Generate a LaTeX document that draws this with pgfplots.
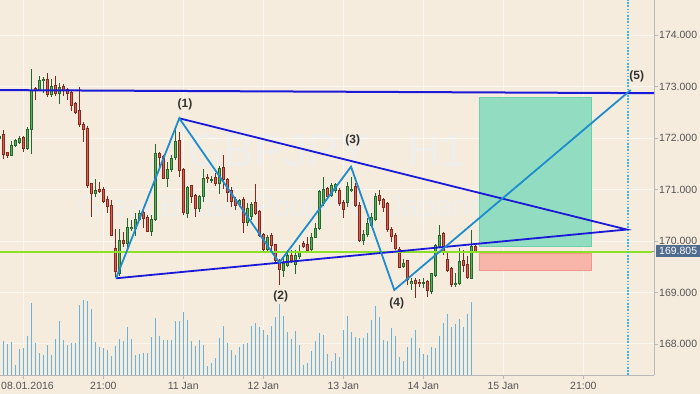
\documentclass[border=0pt]{standalone}
\usepackage{pgfplots}
\pgfplotsset{compat=1.18}
\usepackage{pgfplotstable}
\usepackage{fontspec}
\setmainfont{Liberation Sans}

\definecolor{bg}{RGB}{245,236,222}
\definecolor{gridc}{RGB}{250,247,241}
\definecolor{axc}{RGB}{185,185,185}
\definecolor{txt}{RGB}{85,85,85}
\definecolor{upb}{RGB}{35,105,45}
\definecolor{upf}{RGB}{90,180,90}
\definecolor{dnb}{RGB}{135,40,30}
\definecolor{dnf}{RGB}{220,95,80}
\definecolor{vol}{RGB}{105,178,218}
\definecolor{lineblue}{RGB}{25,25,215}
\definecolor{zig}{RGB}{30,140,205}
\definecolor{lime}{RGB}{140,225,40}
\definecolor{tpfill}{RGB}{146,221,194}
\definecolor{tpdraw}{RGB}{110,205,170}
\definecolor{slfill}{RGB}{248,182,170}
\definecolor{sldraw}{RGB}{240,150,140}
\definecolor{pricebox}{RGB}{80,108,142}
\definecolor{wm}{RGB}{239,238,234}
\definecolor{vdot}{RGB}{60,180,230}
\definecolor{lbl}{RGB}{51,51,51}

\pgfplotsset{
  candle/.style 2 args={only marks, mark=*, mark size=0pt, mark options={draw=none, fill=none},
    error bars/.cd, y dir=both, y explicit, error mark=none,
    error bar style={#1, line width=#2}},
}

\pgfplotstableread{
k o h l c
-1 171.99 172.05 171.97 172.04
0 172.06 172.16 171.60 171.68
1 171.71 171.73 171.62 171.66
2 171.66 171.94 171.65 171.86
3 171.86 171.99 171.83 171.96
4 171.91 172.04 171.88 172.00
5 172.02 172.04 171.73 171.80
6 171.80 172.22 171.77 172.17
7 172.17 173.34 171.70 172.93
8 172.96 173.00 172.74 172.92
9 172.95 173.20 172.92 173.11
10 173.11 173.19 172.88 173.13
11 173.14 173.26 172.79 172.85
12 172.84 173.14 172.80 173.00
13 173.03 173.20 172.82 172.87
14 172.87 173.07 172.67 172.98
15 173.01 173.05 172.82 172.92
16 172.95 172.98 172.74 172.87
17 172.89 172.93 172.53 172.63
18 172.67 172.69 172.47 172.50
19 172.54 173.00 172.22 172.27
20 172.27 172.32 171.93 172.16
21 172.19 172.23 171.02 171.07
22 171.11 171.13 170.46 170.92
23 170.92 171.20 170.86 170.99
24 171.01 171.15 170.93 170.96
25 171.00 171.05 170.73 170.77
26 170.80 170.87 170.55 170.67
27 170.70 170.80 170.10 170.11
28 169.86 170.23 169.31 169.40
29 169.37 170.23 169.32 170.01
30 170.02 170.18 169.89 169.95
31 169.95 170.44 169.86 170.27
32 170.25 170.41 170.20 170.27
33 170.25 170.55 170.10 170.42
34 170.42 170.60 170.38 170.54
35 170.55 170.60 170.25 170.44
36 170.46 170.50 170.17 170.19
37 170.18 170.50 170.10 170.42
38 170.41 171.88 170.38 171.69
39 171.70 171.73 171.44 171.62
40 171.64 171.67 171.20 171.22
41 171.22 171.54 171.05 171.38
42 171.38 171.67 171.35 171.60
43 171.62 172.19 171.57 171.93
44 171.95 172.12 171.25 171.37
45 171.39 171.41 170.50 170.55
46 170.54 171.07 170.44 171.04
47 171.07 171.09 170.73 170.86
48 170.89 170.91 170.46 170.63
49 170.63 170.89 170.57 170.86
50 170.86 171.39 170.76 171.21
51 171.24 171.31 171.13 171.21
52 171.19 171.26 171.12 171.20
53 171.24 171.33 171.07 171.11
54 171.11 171.46 170.91 171.41
55 171.43 171.67 171.02 171.19
56 171.19 171.22 170.76 170.94
57 170.98 171.05 170.67 170.76
58 170.80 170.86 170.60 170.70
59 170.70 170.82 170.66 170.78
60 170.80 170.86 170.16 170.36
61 170.36 170.73 170.29 170.63
62 170.47 170.76 170.41 170.71
63 170.74 171.10 170.50 170.54
64 170.57 170.60 170.07 170.10
65 170.12 170.15 169.79 169.83
66 169.83 170.12 169.79 170.06
67 170.10 170.15 169.83 169.92
68 169.93 169.95 169.60 169.63
69 169.63 169.66 169.15 169.44
70 169.42 169.70 169.31 169.57
71 169.53 169.83 169.50 169.71
72 169.71 169.83 169.57 169.63
73 169.55 169.83 169.36 169.71
74 169.70 169.92 169.66 169.77
75 169.95 170.00 169.86 169.90
76 169.94 170.07 169.79 169.81
77 169.83 170.16 169.81 170.07
78 170.07 170.36 170.05 170.25
79 170.25 170.99 170.22 170.96
80 170.73 171.25 170.67 171.00
81 171.02 171.05 170.83 170.87
82 170.89 171.12 170.86 171.07
83 170.98 171.13 170.93 171.09
84 170.98 171.02 170.68 170.72
85 170.74 170.80 170.44 170.62
86 170.74 171.15 170.67 171.05
87 170.99 171.25 170.96 171.01
88 171.06 171.12 170.67 170.70
89 170.70 170.76 169.99 170.01
90 170.01 170.21 169.92 170.12
91 170.12 170.44 170.08 170.34
92 170.31 170.54 170.28 170.46
93 170.42 170.93 170.39 170.87
94 170.89 171.00 170.70 170.78
95 170.80 170.83 170.57 170.65
96 170.72 170.76 170.18 170.23
97 170.23 170.28 169.99 170.08
98 170.10 170.15 169.83 169.86
99 169.83 169.89 169.47 169.49
100 169.50 169.66 169.47 169.57
101 169.62 169.64 169.15 169.26
102 169.17 169.28 169.05 169.22
103 169.24 169.28 168.89 169.18
104 169.20 169.26 169.11 169.17
105 169.18 169.28 169.08 169.19
106 169.21 169.24 168.91 169.04
107 169.02 169.37 168.98 169.36
108 169.34 169.95 169.31 169.92
109 169.90 170.31 169.89 170.10
110 170.15 170.18 169.73 169.79
111 169.64 169.79 169.40 169.42
112 169.47 169.50 169.11 169.15
113 169.15 169.37 169.11 169.17
114 169.17 169.86 169.15 169.60
115 169.63 169.83 169.40 169.53
116 169.55 169.70 169.26 169.29
117 169.28 170.21 169.26 169.90
118 169.90 169.95 169.76 169.79
}\candles

\pgfplotstableread{
k v
0 102
1 93
2 99
3 30
4 78
5 81
6 117
7 216
8 96
9 66
10 60
11 90
12 60
13 108
14 162
15 105
16 90
17 96
18 96
19 210
20 225
21 222
22 198
23 99
24 84
25 81
26 75
27 57
28 87
29 108
30 102
31 144
32 108
33 60
34 63
35 66
36 66
37 114
38 171
39 117
40 105
41 105
42 105
43 162
44 162
45 189
46 165
47 102
48 87
49 105
50 90
51 27
52 36
53 51
54 111
55 147
56 96
57 75
58 60
59 84
60 93
61 96
62 147
63 156
64 144
65 135
66 120
67 147
68 174
69 213
70 177
71 129
72 108
73 132
74 90
75 30
76 36
77 72
78 102
79 126
80 120
81 63
82 42
83 66
84 54
85 135
86 177
87 129
88 114
89 111
90 111
91 126
92 165
93 207
94 174
95 105
96 102
97 141
98 117
99 54
100 42
101 84
102 111
103 135
104 81
105 63
106 60
107 84
108 81
109 117
110 156
111 183
112 144
113 153
114 168
115 144
116 183
117 219
}\volume

\begin{document}
\begin{tikzpicture}
\useasboundingbox (0,-19bp) rectangle (700bp,375bp);
\fill[bg] (0,-19bp) rectangle (700bp,375bp);
% watermark
\node[text=wm, anchor=base, inner sep=0pt, font=\fontsize{46bp}{50bp}\selectfont] at (327bp,208bp) {GBPJPY , H1};
\node[text=wm, anchor=base, inner sep=0pt, font=\fontsize{30bp}{34bp}\selectfont] at (327bp,158bp) {Great Britain Pound vs Japanese Yen};

\begin{axis}[
  at={(0,0)}, anchor=south west,
  width=654bp, height=375bp, scale only axis,
  xmin=-0.825, xmax=162.675, ymin=167.398, ymax=174.680,
  axis x line*=bottom, axis y line*=right,
  axis line style={draw=axc, line width=1bp},
  grid=major, major grid style={draw=gridc, line width=1bp},
  xtick={5,25,45,65,85,105,125,145},
  xticklabels={{\hspace*{8.4bp}08.01.2016},21:00,11 Jan,12 Jan,13 Jan,14 Jan,15 Jan,21:00},
  ytick={168,169,170,171,172,173,174},
  yticklabels={168.000,169.000,170.000,171.000,172.000,173.000,174.000},
  tick align=outside, major tick length=4bp,
  tick style={draw=axc, line width=0.8bp},
  ticklabel style={font=\fontsize{10.5bp}{12bp}\selectfont, text=txt, inner sep=0pt},
  yticklabel style={anchor=west, xshift=1bp},
  xticklabel style={anchor=north, yshift=-3bp},
  extra y ticks={169.805},
  extra y tick labels={169.805},
  extra y tick style={
    grid=major, major grid style={draw=gray!80, line width=0.8bp},
    tick style={draw=none},
    yticklabel style={fill=pricebox, text=white, inner xsep=3bp, inner ysep=2.5bp, xshift=-3bp}},
]
% trade boxes
\addplot[fill=tpfill, draw=tpdraw, line width=0.8bp] coordinates {(119.0,169.90) (147.1,169.90) (147.1,172.79) (119.0,172.79)} -- cycle;
\addplot[fill=slfill, draw=sldraw, line width=0.8bp] coordinates {(119.0,169.42) (147.1,169.42) (147.1,169.75) (119.0,169.75)} -- cycle;

% candles: wicks
\addplot[candle={upb}{1bp}]
  table[x=k, y expr={\thisrow{c}>=\thisrow{o} ? (\thisrow{h}+\thisrow{l})/2 : nan},
        y error expr={(\thisrow{h}-\thisrow{l})/2}] {\candles};
\addplot[candle={dnb}{1bp}]
  table[x=k, y expr={\thisrow{c}<\thisrow{o} ? (\thisrow{h}+\thisrow{l})/2 : nan},
        y error expr={(\thisrow{h}-\thisrow{l})/2}] {\candles};
% bodies outline
\addplot[candle={upb}{3.2bp}]
  table[x=k, y expr={\thisrow{c}>=\thisrow{o} ? (\thisrow{o}+\thisrow{c})/2 : nan},
        y error expr={max(abs(\thisrow{c}-\thisrow{o})/2,0.006)+0.0097}] {\candles};
\addplot[candle={dnb}{3.2bp}]
  table[x=k, y expr={\thisrow{c}<\thisrow{o} ? (\thisrow{o}+\thisrow{c})/2 : nan},
        y error expr={max(abs(\thisrow{c}-\thisrow{o})/2,0.006)+0.0097}] {\candles};
% bodies fill
\addplot[candle={upf}{1.4bp}]
  table[x=k, y expr={\thisrow{c}>=\thisrow{o} ? (\thisrow{o}+\thisrow{c})/2 : nan},
        y error expr={max(abs(\thisrow{c}-\thisrow{o})/2-0.0097,0)}] {\candles};
\addplot[candle={dnf}{1.4bp}]
  table[x=k, y expr={\thisrow{c}<\thisrow{o} ? (\thisrow{o}+\thisrow{c})/2 : nan},
        y error expr={max(abs(\thisrow{c}-\thisrow{o})/2-0.0097,0)}] {\candles};

% lines
\addplot[lime, line width=2bp] coordinates {(-0.825,169.79) (162.1,169.79)};
\addplot[lineblue, line width=2bp] coordinates {(-0.825,172.93) (162.675,172.87)};
\addplot[vdot, line width=1.6bp, dash pattern=on 1.6bp off 1.6bp] coordinates {(156.1,167.398) (156.1,174.680)};
\addplot[lineblue, line width=1.8bp] coordinates {(44.0,172.383) (155.85,170.223) (28.18,169.276)};
\addplot[zig, line width=1.8bp] coordinates {(28.18,169.276) (44.0,172.383) (69.0,169.579) (86.93,171.443) (97.75,169.049) (156.85,172.932)};

% wave labels
\node[font=\bfseries\fontsize{12bp}{14bp}\selectfont, text=lbl, inner sep=0pt] at (axis cs:45.43,172.650) {(1)};
\node[font=\bfseries\fontsize{12bp}{14bp}\selectfont, text=lbl, inner sep=0pt] at (axis cs:69.35,168.918) {(2)};
\node[font=\bfseries\fontsize{12bp}{14bp}\selectfont, text=lbl, inner sep=0pt] at (axis cs:87.35,171.948) {(3)};
\node[font=\bfseries\fontsize{12bp}{14bp}\selectfont, text=lbl, inner sep=0pt] at (axis cs:98.35,168.790) {(4)};
\node[font=\bfseries\fontsize{12bp}{14bp}\selectfont, text=lbl, inner sep=0pt] at (axis cs:158.35,173.204) {(5)};
\end{axis}

\begin{axis}[
  at={(0,0)}, anchor=south west,
  width=654bp, height=375bp, scale only axis,
  xmin=-0.825, xmax=162.675, ymin=0, ymax=1125,
  hide axis]
\addplot[ycomb, vol, line width=1.1bp, mark=none] table[x=k, y=v] {\volume};
\end{axis}
\end{tikzpicture}
\end{document}
